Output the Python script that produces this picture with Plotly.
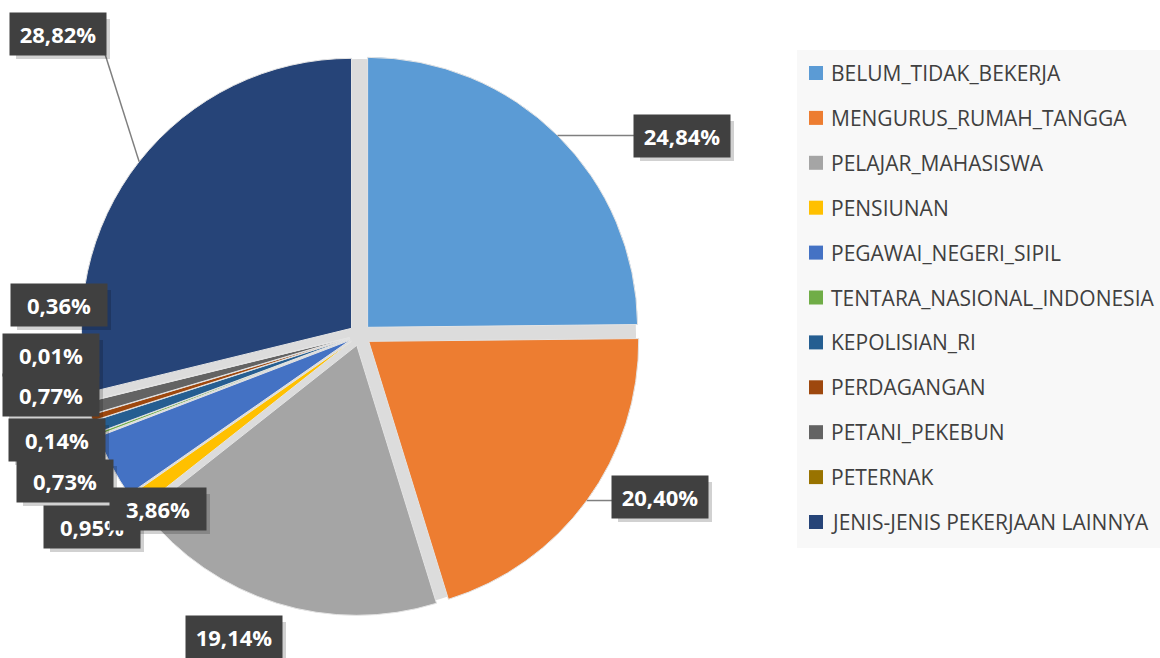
import math
import plotly.graph_objects as go

# Share of residents by occupation (%)
categories = [
    "BELUM_TIDAK_BEKERJA",
    "MENGURUS_RUMAH_TANGGA",
    "PELAJAR_MAHASISWA",
    "PENSIUNAN",
    "PEGAWAI_NEGERI_SIPIL",
    "TENTARA_NASIONAL_INDONESIA",
    "KEPOLISIAN_RI",
    "PERDAGANGAN",
    "PETANI_PEKEBUN",
    "PETERNAK",
    "JENIS-JENIS PEKERJAAN LAINNYA",
]
shares = [24.84, 20.40, 19.14, 0.95, 3.86, 0.14, 0.73, 0.36, 0.77, 0.01, 28.82]
colors = [
    "#5B9BD5", "#ED7D31", "#A5A5A5", "#FFC000", "#4472C4", "#70AD47",
    "#255E91", "#9E480E", "#636363", "#997300", "#264478",
]

# ---- layout settings (pixels) ----
W, H = 1160, 658
CX, CY = 360, 335          # pie centre
R = 270                    # pie radius
PULL = 0.04                # every slice exploded slightly
# callout box centres and whether a leader line is drawn
label_centres = [(682, 136), (660, 497), (234, 637), (92, 527), (158, 509),
                 (57, 440), (65, 481), (59, 305), (51, 395), (51, 355), (58, 34)]
with_leader = [True, True, False, False, False, False, False, False, False, False, True]
BOX_W, BOX_H = 94, 40


def px(x):
    return x / W


def py(y):
    return 1 - y / H


def pie_domain(radius, pull):
    side = 2 * radius * (1 + pull)
    return dict(
        x=[px(CX - side / 2), px(CX + side / 2)],
        y=[py(CY + side / 2), py(CY - side / 2)],
    )


def fmt(v):
    return f"{v:.2f}".replace(".", ",") + "%"


fig = go.Figure()

# soft grey disc behind the exploded slices
fig.add_trace(go.Pie(
    values=[1], labels=["_"], marker=dict(colors=["#DCDCDC"]),
    domain=pie_domain(R + 6, 0), textinfo="none", hoverinfo="skip",
    showlegend=False, sort=False,
))

fig.add_trace(go.Pie(
    labels=categories, values=shares,
    marker=dict(colors=colors, line=dict(color="#E4E4E4", width=1)),
    pull=[PULL] * len(shares),
    sort=False, direction="clockwise", rotation=0,
    textinfo="none", showlegend=False,
    domain=pie_domain(R, PULL),
))

# leader lines and data callouts, anchored at each slice's mid-angle
total = sum(shares)
cum = 0.0
shapes = []
annotations = []
for i, v in enumerate(shares):
    mid = (cum + v / 2) / total * 2 * math.pi
    cum += v
    sx = CX + R * (1 + PULL) * math.sin(mid)
    sy = CY - R * (1 + PULL) * math.cos(mid)
    lx, ly = label_centres[i]
    if with_leader[i]:
        ex = min(max(sx, lx - BOX_W / 2), lx + BOX_W / 2)
        ey = min(max(sy, ly - BOX_H / 2), ly + BOX_H / 2)
        shapes.append(dict(type="line", xref="paper", yref="paper",
                           x0=px(sx), y0=py(sy), x1=px(ex), y1=py(ey),
                           line=dict(color="#7F7F7F", width=1.5)))
    # drop shadow under the callout box
    shapes.append(dict(type="rect", xref="paper", yref="paper",
                       x0=px(lx - BOX_W / 2 + 5), x1=px(lx + BOX_W / 2 + 5),
                       y0=py(ly + BOX_H / 2 + 5), y1=py(ly - BOX_H / 2 + 5),
                       fillcolor="rgba(0,0,0,0.18)", line=dict(width=0)))
    annotations.append(dict(
        x=px(lx), y=py(ly), xref="paper", yref="paper",
        xanchor="center", yanchor="middle",
        text=fmt(v), showarrow=False, width=BOX_W, height=BOX_H,
        bgcolor="#404040",
        font=dict(family="Open Sans", size=22, color="white", weight="bold"),
    ))

# legend panel
LEG_X0, LEG_Y0, LEG_Y1 = 797, 50, 548
shapes.append(dict(type="rect", xref="paper", yref="paper",
                   x0=px(LEG_X0), x1=1, y0=py(LEG_Y1), y1=py(LEG_Y0),
                   fillcolor="#F8F8F8", line=dict(width=0), layer="below"))
ROW0, ROW_STEP = 73, 44.9
for i, (name, c) in enumerate(zip(categories, colors)):
    yc = ROW0 + i * ROW_STEP
    shapes.append(dict(type="rect", xref="paper", yref="paper",
                       x0=px(809), x1=px(823), y0=py(yc + 7), y1=py(yc - 7),
                       fillcolor=c, line=dict(width=0)))
    annotations.append(dict(
        x=px(829), y=py(yc), xref="paper", yref="paper",
        xanchor="left", yanchor="middle", text=name, showarrow=False,
        font=dict(family="Open Sans", size=21, color="#404040"),
    ))

fig.update_layout(
    width=W, height=H,
    margin=dict(l=0, r=0, t=0, b=0),
    paper_bgcolor="white",
    shapes=shapes,
    annotations=annotations,
)

fig.write_html("out.html")
